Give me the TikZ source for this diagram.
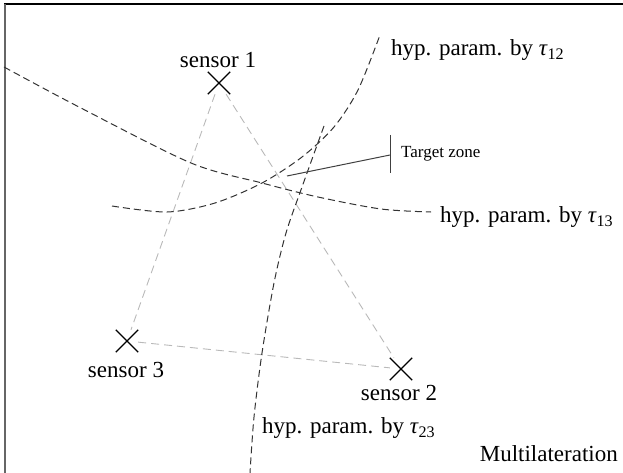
\documentclass[tikz,border=0pt]{standalone}
\usepackage{fontspec}
\setmainfont{Liberation Serif}
\usetikzlibrary{shapes.misc}

\tikzset{
  sensor/.style={cross out, draw, line width=1.4pt, minimum size=21pt, inner sep=0pt},
  pairline/.style={draw=gray!55, dash pattern=on 8pt off 5pt, line width=0.9pt},
  hyp/.style={draw=black!80, dash pattern=on 7pt off 4pt, line width=1pt},
  lbl/.style={font=\fontsize{23}{26}\selectfont, inner sep=0pt},
}

\begin{document}
\begin{tikzpicture}[x=1pt,y=-1pt]
\useasboundingbox (0,0) rectangle (623,473);

\draw[line width=2pt] (4,4) -- (623,4);
\draw[black!60, line width=2.5pt] (5,4) -- (5,473);

\node[sensor] (s1) at (219,83) {};
\node[sensor] (s2) at (401,369) {};
\node[sensor] (s3) at (127,341) {};

\node[lbl] (l1) at (218,60) {sensor 1};
\node[lbl] (l2) at (399,393) {sensor 2};
\node[lbl] (l3) at (126,370) {sensor 3};

\foreach \a/\b in {s1/s3, s1/s2, s3/s2} \draw[pairline] (\a) -- (\b);

\draw[hyp] plot[smooth] coordinates {(112,206) (167,212) (215,203) (262,183) (302,157) (334,127) (358,90) (380,35)};
\draw[hyp] plot[smooth] coordinates {(4,67) (79,107) (191,163) (262,183) (318,197) (381,209) (431,212)};
\draw[hyp] plot[smooth] coordinates {(324,126) (302,187) (286,233) (274,283) (262,353) (254,417) (250,473)};

\node[lbl, anchor=west] (h12) at (391,50) {hyp. param. by \textit{τ}\textsubscript{12}};
\node[lbl, anchor=west] (h13) at (440,217) {hyp. param. by \textit{τ}\textsubscript{13}};
\node[lbl, anchor=west] (h23) at (262,428) {hyp. param. by \textit{τ}\textsubscript{23}};

\coordinate (zone) at (287,176);
\coordinate (bar) at (390,155);
\draw[black!75, line width=1pt] (zone) -- (bar);
\draw[black!75, line width=1pt] (390,135) -- (390,173);
\node[font=\fontsize{17}{20}\selectfont, anchor=west, inner sep=0pt] (tz) at (401,154) {Target zone};

\node[lbl, anchor=east] (ml) at (618,454) {Multilateration};
\end{tikzpicture}
\end{document}
